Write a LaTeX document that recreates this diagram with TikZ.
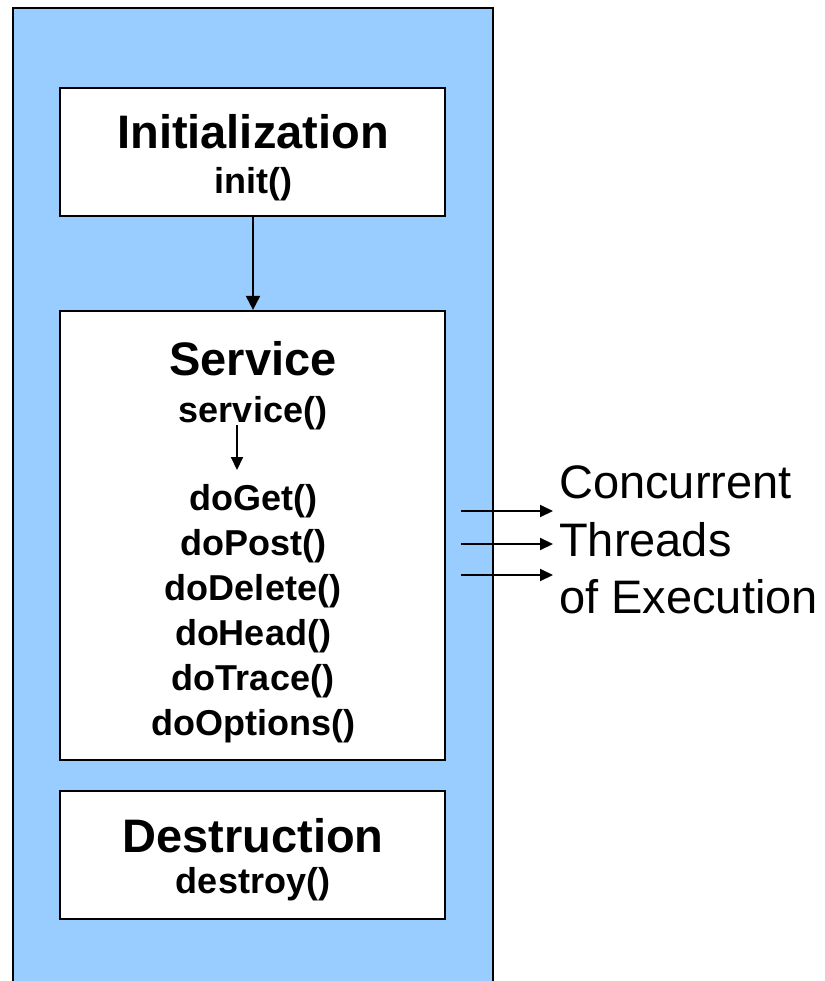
\documentclass[tikz,border=0pt]{standalone}
\usepackage{fontspec}
\setmainfont{Liberation Sans}
\usetikzlibrary{arrows.meta}
\definecolor{lifeblue}{HTML}{99CCFF}
\tikzset{
  stagebox/.style={draw=black, line width=2.2bp, fill=white, rectangle, inner sep=0pt},
  titletxt/.style={anchor=base, inner sep=0pt, font=\fontsize{47bp}{56bp}\selectfont\bfseries},
  methtxt/.style={anchor=base, inner sep=0pt, font=\fontsize{36bp}{43bp}\selectfont\bfseries},
  threadtxt/.style={anchor=base west, inner sep=0pt, font=\fontsize{47bp}{56bp}\selectfont},
  flow/.style={line width=2bp, -{Triangle[length=14bp,width=14bp]}},
  thread/.style={line width=2bp, -{Triangle[length=13bp,width=12bp]}}
}
\begin{document}
\begin{tikzpicture}[x=1bp,y=-1bp]
\useasboundingbox (0,0) rectangle (825,981);
% outer lifecycle panel
\fill[lifeblue] (13,8) rectangle (493,990);
\draw[line width=2.2bp] (13,990) -- (13,8) -- (493,8) -- (493,990);
% stage boxes
\node[stagebox, minimum width=385bp, minimum height=128bp] (init) at (252.5,152) {};
\node[stagebox, minimum width=385bp, minimum height=449bp] (serv) at (252.5,535.5) {};
\node[stagebox, minimum width=385bp, minimum height=128bp] (dest) at (252.5,855) {};
% texts
\node[titletxt] (initT) at (253,148) {Initialization};
\node[methtxt] (initM) at (253,193) {init()};
\node[titletxt] (servT) at (253,375) {Service};
\node[methtxt] (servM) at (253,422) {service()};
\node[methtxt] (m1) at (253,510) {doGet()};
\node[methtxt] (m2) at (253,555) {doPost()};
\node[methtxt] (m3) at (253,600) {doDelete()};
\node[methtxt] (m4) at (253,645) {doHead()};
\node[methtxt] (m5) at (253,690) {doTrace()};
\node[methtxt] (m6) at (253,735) {doOptions()};
\node[titletxt] (destT) at (253,852) {Destruction};
\node[methtxt] (destM) at (253,893) {destroy()};
\node[threadtxt] (t1) at (559,498) {Concurrent};
\node[threadtxt] (t2) at (559,556) {Threads};
\node[threadtxt] (t3) at (559,613) {of Execution};
% connectors
\draw[flow] (init.south -| initT) -- (serv.north -| initT);
\coordinate (sa) at (237,425);
\coordinate (sb) at (237,470);
\draw[line width=2bp, -{Triangle[length=13bp,width=12bp]}] (sa) -- (sb);
\coordinate (a1) at (461,511); \coordinate (b1) at (553,511);
\coordinate (a2) at (461,544); \coordinate (b2) at (553,544);
\coordinate (a3) at (461,575); \coordinate (b3) at (553,575);
\draw[thread] (a1) -- (b1);
\draw[thread] (a2) -- (b2);
\draw[thread] (a3) -- (b3);
\end{tikzpicture}
\end{document}
